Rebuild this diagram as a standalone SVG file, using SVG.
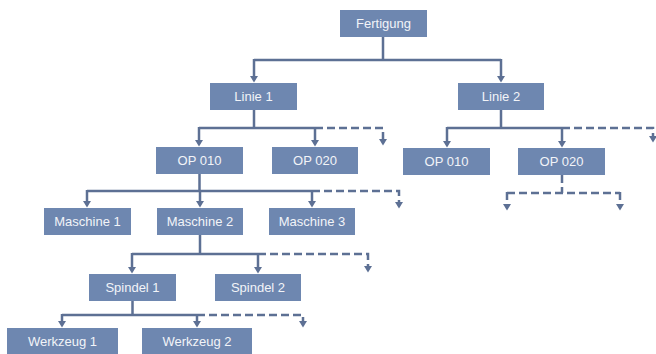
<svg xmlns="http://www.w3.org/2000/svg" width="656" height="354" viewBox="0 0 656 354">
<defs>
<marker id="ah" markerUnits="userSpaceOnUse" markerWidth="10" markerHeight="10" viewBox="0 -5 7 10" refX="0" refY="0" orient="auto">
<path d="M0,-4 L6.5,0 L0,4 Z" fill="#5d7094"/>
</marker>
<style>
.box{fill:#6e87b0;}
.lbl{fill:#f2f4f8;font-family:"Liberation Sans",Arial,sans-serif;font-size:13px;text-anchor:middle;}
.c{fill:none;stroke:#5d7094;stroke-width:2.5;}
.d{fill:none;stroke:#5d7094;stroke-width:2.5;stroke-dasharray:8 4;}
.a{marker-end:url(#ah);}
</style>
</defs>
<rect width="656" height="354" fill="#ffffff"/>
<g id="connectors">
<path class="c" d="M383 37 V60 M254 60 H501"/>
<path class="c a" d="M254 59 V76"/>
<path class="c a" d="M501 59 V76"/>
<path class="c" d="M254 110 V128 M199 128 H315"/>
<path class="d a" d="M315 128 H383 V139"/>
<path class="c a" d="M199 127 V140"/>
<path class="c a" d="M315 127 V140"/>
<path class="c" d="M501 110 V128 M447 128 H562"/>
<path class="d a" d="M562 128 H653 V136"/>
<path class="c a" d="M447 127 V141"/>
<path class="c a" d="M562 127 V141"/>
<path class="c" d="M199.5 174 V191 M87 191 H312"/>
<path class="d a" d="M312 191 H399 V202"/>
<path class="c a" d="M87 190 V201"/>
<path class="c a" d="M200 190 V201"/>
<path class="c a" d="M312 190 V201"/>
<path class="d" d="M562 175 V193 M507 193 H620"/>
<path class="d a" d="M507 192 V204"/>
<path class="d a" d="M620 192 V204"/>
<path class="c" d="M200 235 V254 M132 254 H258"/>
<path class="d a" d="M258 254 H368 V266"/>
<path class="c a" d="M132 253 V267"/>
<path class="c a" d="M258 253 V267"/>
<path class="c" d="M132.5 301 V315 M62 315 H197"/>
<path class="d a" d="M197 315 H303 V321"/>
<path class="c a" d="M62 314 V321"/>
<path class="c a" d="M197 314 V321"/>
</g>
<g id="fertigung"><rect class="box" x="340" y="10" width="87" height="27"/><text class="lbl" x="383.5" y="28">Fertigung</text></g>
<g id="linie1"><rect class="box" x="210" y="83" width="87" height="27"/><text class="lbl" x="253.5" y="101">Linie 1</text></g>
<g id="linie2"><rect class="box" x="458" y="83" width="86" height="27"/><text class="lbl" x="501" y="101">Linie 2</text></g>
<g id="op010a"><rect class="box" x="156" y="147" width="87" height="27"/><text class="lbl" x="199.5" y="165">OP 010</text></g>
<g id="op020a"><rect class="box" x="272" y="147" width="86" height="27"/><text class="lbl" x="315" y="165">OP 020</text></g>
<g id="op010b"><rect class="box" x="403" y="148" width="87" height="27"/><text class="lbl" x="446.5" y="166">OP 010</text></g>
<g id="op020b"><rect class="box" x="518" y="148" width="87" height="27"/><text class="lbl" x="561.5" y="166">OP 020</text></g>
<g id="maschine1"><rect class="box" x="44" y="208" width="87" height="27"/><text class="lbl" x="87.5" y="226">Maschine 1</text></g>
<g id="maschine2"><rect class="box" x="157" y="208" width="86" height="27"/><text class="lbl" x="200" y="226">Maschine 2</text></g>
<g id="maschine3"><rect class="box" x="269" y="208" width="86" height="27"/><text class="lbl" x="312" y="226">Maschine 3</text></g>
<g id="spindel1"><rect class="box" x="89" y="274" width="87" height="27"/><text class="lbl" x="132.5" y="292">Spindel 1</text></g>
<g id="spindel2"><rect class="box" x="215" y="274" width="86" height="27"/><text class="lbl" x="258" y="292">Spindel 2</text></g>
<g id="werkzeug1"><rect class="box" x="7" y="328" width="111" height="30"/><text class="lbl" x="62.5" y="346">Werkzeug 1</text></g>
<g id="werkzeug2"><rect class="box" x="142" y="328" width="110" height="30"/><text class="lbl" x="197" y="346">Werkzeug 2</text></g>
</svg>
